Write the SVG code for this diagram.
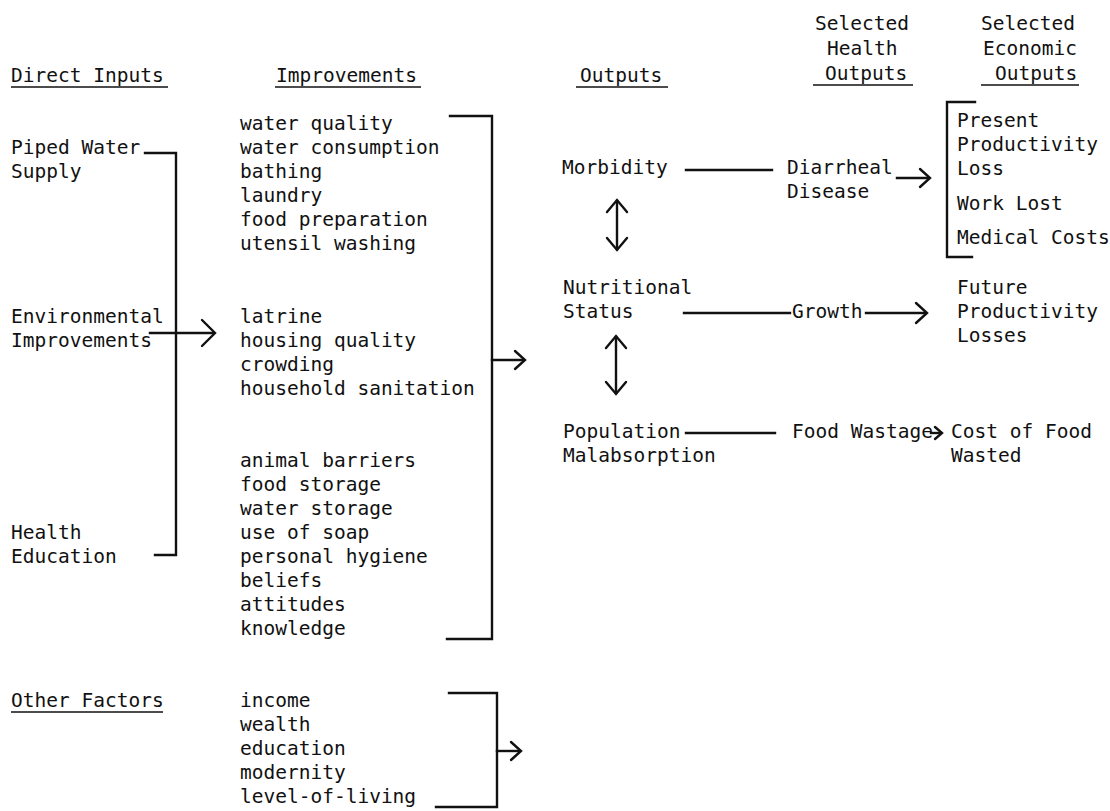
<svg xmlns="http://www.w3.org/2000/svg" width="1110" height="811" viewBox="0 0 1110 811">
<style>
text{font-family:"DejaVu Sans Mono","Liberation Mono",monospace;font-size:19.5px;fill:#111}
.ln{fill:none;stroke:#111;stroke-width:2.4;stroke-linecap:square;stroke-linejoin:miter}
.ah{fill:none;stroke:#111;stroke-width:2.4;stroke-linecap:round;stroke-linejoin:miter}
.ul{stroke:#111;stroke-width:1.6}
</style>
<rect width="1110" height="811" fill="#fff"/>
<g id="headers">
<text x="11" y="82">Direct Inputs</text><line class="ul" x1="11" y1="87" x2="168" y2="87"/>
<text x="276" y="82">Improvements</text><line class="ul" x1="275" y1="87" x2="421" y2="87"/>
<text x="580" y="82">Outputs</text><line class="ul" x1="576" y1="87" x2="668" y2="87"/>
<text x="815" y="30">Selected</text><text x="827" y="55">Health</text><text x="825" y="80">Outputs</text><line class="ul" x1="813" y1="85" x2="913" y2="85"/>
<text x="981" y="30">Selected</text><text x="983" y="55">Economic</text><text x="995" y="80">Outputs</text><line class="ul" x1="981" y1="85" x2="1079" y2="85"/>
</g>
<g id="piped-water"><text x="11" y="154">Piped Water</text><text x="11" y="178">Supply</text></g>
<g id="environmental"><text x="11" y="323">Environmental</text><text x="11" y="347">Improvements</text></g>
<g id="health-education"><text x="11" y="539">Health</text><text x="11" y="563">Education</text></g>
<g id="other-factors"><text x="11" y="707">Other Factors</text><line class="ul" x1="11" y1="712" x2="163" y2="712"/></g>
<g id="improvements-water">
<text x="240" y="130">water quality</text><text x="240" y="154">water consumption</text><text x="240" y="178">bathing</text><text x="240" y="202">laundry</text><text x="240" y="226">food preparation</text><text x="240" y="250">utensil washing</text>
</g>
<g id="improvements-environment">
<text x="240" y="323">latrine</text><text x="240" y="347">housing quality</text><text x="240" y="371">crowding</text><text x="240" y="395">household sanitation</text>
</g>
<g id="improvements-education">
<text x="240" y="467">animal barriers</text><text x="240" y="491">food storage</text><text x="240" y="515">water storage</text><text x="240" y="539">use of soap</text><text x="240" y="563">personal hygiene</text><text x="240" y="587">beliefs</text><text x="240" y="611">attitudes</text><text x="240" y="635">knowledge</text>
</g>
<g id="other-factor-list">
<text x="240" y="707">income</text><text x="240" y="731">wealth</text><text x="240" y="755">education</text><text x="240" y="779">modernity</text><text x="240" y="803">level-of-living</text>
</g>
<g id="morbidity"><text x="562" y="174">Morbidity</text></g>
<g id="nutritional-status"><text x="563" y="294">Nutritional</text><text x="563" y="318">Status</text></g>
<g id="population-malabsorption"><text x="563" y="438">Population</text><text x="563" y="462">Malabsorption</text></g>
<g id="diarrheal-disease"><text x="787" y="174">Diarrheal</text><text x="787" y="198">Disease</text></g>
<g id="growth"><text x="792" y="318">Growth</text></g>
<g id="food-wastage"><text x="792" y="438">Food Wastage</text></g>
<g id="present-losses">
<text x="957" y="127">Present</text><text x="957" y="151">Productivity</text><text x="957" y="175">Loss</text><text x="957" y="210">Work Lost</text><text x="957" y="244">Medical Costs</text>
</g>
<g id="future-losses"><text x="957" y="294">Future</text><text x="957" y="318">Productivity</text><text x="957" y="342">Losses</text></g>
<g id="food-cost"><text x="951" y="438">Cost of Food</text><text x="951" y="462">Wasted</text></g>
<g id="connectors">
<path class="ln" d="M145,153 H176 V555 H155"/>
<path class="ln" d="M150,333 H213"/><path class="ah" d="M202,320 L215,333 L202,346"/>
<path class="ln" d="M450,116 H492 V639 H447"/>
<path class="ln" d="M492,360 H523"/><path class="ah" d="M515,351 L525,360 L515,369"/>
<path class="ln" d="M449,693 H497 V807 H436"/>
<path class="ln" d="M497,751 H519"/><path class="ah" d="M511,742 L521,751 L511,760"/>
<path class="ln" d="M686,170 H772"/>
<path class="ln" d="M897,178 H928"/><path class="ah" d="M920,169 L930,178 L920,187"/>
<path class="ln" d="M617,201 V249"/><path class="ah" d="M607,212 L617,200 L627,212"/><path class="ah" d="M607,238 L617,250 L627,238"/>
<path class="ln" d="M975,102 H947 V257 H972"/>
<path class="ln" d="M684,313 H790"/>
<path class="ln" d="M866,313 H925"/><path class="ah" d="M916,303 L927,313 L916,323"/>
<path class="ln" d="M616,337 V393"/><path class="ah" d="M606,348 L616,336 L626,348"/><path class="ah" d="M606,382 L616,394 L626,382"/>
<path class="ln" d="M686,433 H775"/>
<path class="ln" d="M931,433 H940"/><path class="ah" d="M935,427 L942,433 L935,439"/>
</g>
</svg>
